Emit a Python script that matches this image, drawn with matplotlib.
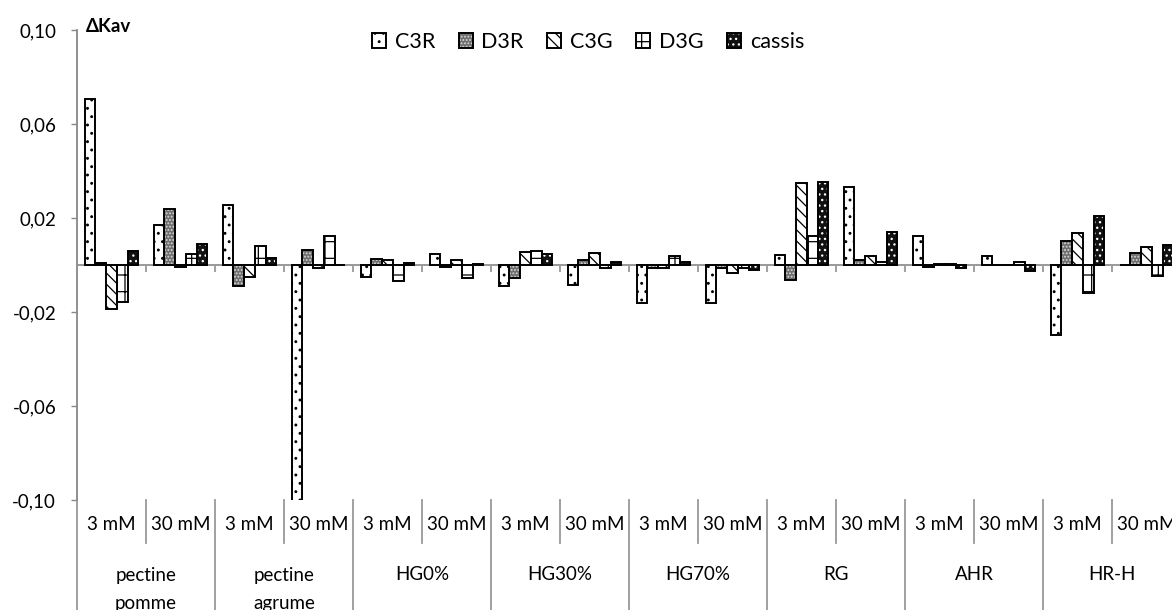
import numpy as np
import matplotlib
matplotlib.use('Agg')
import matplotlib.pyplot as plt

plt.rcParams['font.family'] = ['Lato', 'DejaVu Sans']
plt.rcParams['hatch.linewidth'] = 0.9

# data
groups = ["pectine\npomme", "pectine\nagrume", "HG0%", "HG30%", "HG70%", "RG", "AHR", "HR-H"]
concs = ["3 mM", "30 mM"]
series = ["C3R", "D3R", "C3G", "D3G", "cassis"]

C3R = [0.0708, 0.0171, 0.0257, -0.12, -0.0050, 0.0047, -0.0089, -0.0082,
       -0.0161, -0.0160, 0.0043, 0.0334, 0.0126, 0.0042, -0.0297, 0.0]
D3R = [0.0011, 0.0241, -0.0087, 0.0066, 0.0029, -0.0006, -0.0054, 0.0021,
       -0.0010, -0.0012, -0.0064, 0.0024, -0.0006, 0.0002, 0.0106, 0.0051]
C3G = [-0.0187, -0.0006, -0.0051, -0.0010, 0.0021, 0.0025, 0.0058, 0.0052,
       -0.0012, -0.0031, 0.0350, 0.0038, 0.0006, 0.0002, 0.0139, 0.0079]
D3G = [-0.0157, 0.0049, 0.0082, 0.0126, -0.0065, -0.0054, 0.0062, -0.0012,
       0.0040, -0.0011, 0.0124, 0.0013, 0.0005, 0.0013, -0.0119, -0.0044]
cassis = [0.0060, 0.0092, 0.0032, 0.0003, 0.0012, 0.0007, 0.0050, 0.0014,
          0.0014, -0.0018, 0.0357, 0.0141, -0.0010, -0.0023, 0.0210, 0.0086]

values = [C3R, D3R, C3G, D3G, cassis]
# fill colour, hatch colour, hatch pattern
styles = [('white', 'black', '..'),
          ('#6e6e6e', '#d8d8d8', '.....'),
          ('white', 'black', '\\\\\\'),
          ('white', 'black', '+'),
          ('#111111', 'white', '...')]

W, H = 1172, 610
fig = plt.figure(figsize=(W / 100, H / 100), dpi=100)
top_px, bot_px, left_px, right_px = 30.5, 500.3, 77, 1181
ax = fig.add_axes([left_px / W, (H - bot_px) / H, (right_px - left_px) / W, (bot_px - top_px) / H])

n = len(groups) * len(concs)
x = np.arange(n)
bw = 0.155
handles = []
for k in range(len(series)):
    fc, hc, hp = styles[k]
    b1 = ax.bar(x + (k - 2) * bw, values[k], bw, color=fc, edgecolor=hc,
                hatch=hp, linewidth=0, zorder=3)
    b2 = ax.bar(x + (k - 2) * bw, values[k], bw, fill=False, edgecolor='black',
                linewidth=1.4, zorder=4)
    handles.append((b1, b2))

ax.set_xlim(-0.5, n - 0.5)
ax.set_ylim(-0.10, 0.10)
yt = [-0.10, -0.06, -0.02, 0.02, 0.06, 0.10]
ax.set_yticks(yt)
ax.set_yticklabels([("%.2f" % v).replace('.', ',') for v in yt])
ax.tick_params(axis='y', direction='out', length=4, width=1, color='#888888',
               labelsize=13.5, pad=11)
ax.set_xticks([])
for s in ['top', 'right', 'bottom']:
    ax.spines[s].set_visible(False)
ax.spines['left'].set_color('#888888')
ax.spines['left'].set_linewidth(1.3)

gray = '#999999'
ax.axhline(0, color=gray, lw=1.4, zorder=2)
ax.vlines(np.arange(1, n + 1) - 0.5, -0.0028, 0, color=gray, lw=1.3, zorder=2)

# category labels below the plot
tr = ax.get_xaxis_transform()
span = bot_px - top_px
def fy(py):
    return (bot_px - py) / span

for i in range(n):
    ax.text(i, fy(525), concs[i % 2], transform=tr, ha='center', va='center', fontsize=13.5)
    xb = i + 0.5
    if i % 2 == 0 and i < n - 1:
        ax.plot([xb, xb], [fy(500), fy(543)], transform=tr, color=gray, lw=1.3, clip_on=False)
for g in range(len(groups)):
    xb = 2 * g - 0.5
    ax.plot([xb, xb], [fy(500), fy(620)], transform=tr, color=gray, lw=1.3, clip_on=False)
    for j, line in enumerate(groups[g].split('\n')):
        ax.text(2 * g + 0.5, fy(575 + 28 * j), line, transform=tr, ha='center',
                va='center', fontsize=13.5)

fig.text(86 / W, 1 - 26 / H, "ΔKav", ha='left', va='center', fontsize=13.5, fontweight='bold')

fig.legend(handles=handles, labels=series, loc='center', bbox_to_anchor=(588 / W, 1 - 42 / H),
           ncol=5, frameon=False, fontsize=15.5, handlelength=0.65, handleheight=0.65,
           handletextpad=0.4, columnspacing=1.1, borderpad=0)

fig.savefig('out.png', dpi=100)
